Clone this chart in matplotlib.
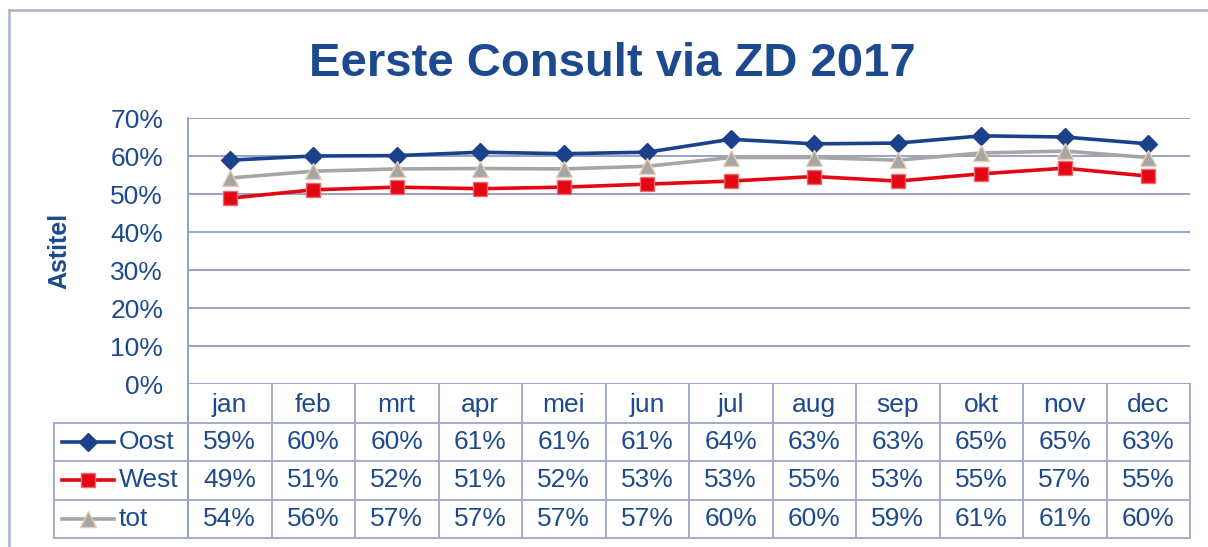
import matplotlib
matplotlib.use("Agg")
import matplotlib.pyplot as plt
from matplotlib.lines import Line2D

# ---------------- data ----------------
months = ["jan", "feb", "mrt", "apr", "mei", "jun", "jul", "aug", "sep", "okt", "nov", "dec"]
oost = [58.9, 60.0, 60.1, 61.0, 60.6, 61.0, 64.4, 63.2, 63.4, 65.3, 65.0, 63.2]
west = [48.9, 51.1, 51.8, 51.4, 51.8, 52.6, 53.4, 54.6, 53.4, 55.3, 56.8, 54.7]
tot = [54.2, 56.0, 56.6, 56.7, 56.6, 57.3, 59.6, 59.6, 58.9, 60.8, 61.3, 59.6]
series_names = ["Oost", "West", "tot"]
yticks = [0, 10, 20, 30, 40, 50, 60, 70]
title = "Eerste Consult via ZD 2017"
ylabel = "Astitel"

# ---------------- style ----------------
plt.rcParams['font.family'] = ['Liberation Sans', 'DejaVu Sans']
BLUE_TXT = "#1D4A8E"
GRID = "#8E9BC6"
TBL = "#A3ACCB"
FRAME = "#ABB2CC"
styles = {
    "Oost": dict(color="#1B418A", marker="D", ms=9, mfc="#1B418A", mec="#1B418A", lw=2.6),
    "West": dict(color="#E30613", marker="s", ms=10, mfc="#E30613", mec="#EE6A6A", lw=2.6),
    "tot": dict(color="#A6A6A6", marker="^", ms=11, mfc="#A6A6A6", mec="#E9CDB5", lw=2.6),
}
data = {"Oost": oost, "West": west, "tot": tot}

W, H = 1208, 547
fig = plt.figure(figsize=(W / 100, H / 100), dpi=100)


def box(l, t, r, b):
    return [l / W, 1 - b / H, (r - l) / W, (b - t) / H]


# outer frame (extends beyond the image on right/bottom)
fig.add_artist(Line2D([9 / W, 1], [1 - 10 / H, 1 - 10 / H], transform=fig.transFigure, color=FRAME, lw=1.8))
fig.add_artist(Line2D([9 / W, 9 / W], [1 - 10 / H, 0], transform=fig.transFigure, color=FRAME, lw=1.8))

# ---------------- plot area ----------------
ax = fig.add_axes(box(188, 118, 1190, 384))
x = list(range(len(months)))
for name in series_names:
    st = styles[name]
    ax.plot(x, data[name], color=st["color"], lw=st["lw"], marker=st["marker"],
            ms=st["ms"], mfc=st["mfc"], mec=st["mec"], mew=1.0, zorder=3)
ax.set_xlim(-0.5, len(months) - 0.5)
ax.set_ylim(0, 70)
ax.set_yticks(yticks)
ax.set_yticklabels([f"{v}%" for v in yticks])
ax.set_xticks([])
ax.yaxis.grid(True, color=GRID, lw=1.3)
ax.set_axisbelow(True)
for s in ["top", "right", "bottom"]:
    ax.spines[s].set_visible(False)
ax.spines["left"].set_color(GRID)
ax.spines["left"].set_linewidth(1.3)
ax.tick_params(axis="y", length=0, pad=18, labelsize=19, labelcolor=BLUE_TXT)

fig.text(612 / W, 1 - 76 / H, title, ha="center", va="baseline", fontsize=34,
         fontweight="bold", color=BLUE_TXT)
fig.text(59 / W, 1 - 251 / H, ylabel, rotation=90, ha="center", va="center",
         fontsize=18, fontweight="bold", color=BLUE_TXT)

# ---------------- data table ----------------
colw = (1190 - 188) / len(months)
xl = -0.5 - (188 - 54) / colw
at = fig.add_axes(box(54, 384, 1190, 538))
at.set_xlim(xl, len(months) - 0.5)
at.set_ylim(4, 0)
at.axis("off")
lw_t = 1.4
for k in range(len(months) + 1):
    at.plot([k - 0.5, k - 0.5], [0, 4], color=TBL if k else GRID, lw=lw_t, clip_on=False)
at.plot([xl, xl], [1, 4], color=TBL, lw=lw_t, clip_on=False)
for r in range(1, 5):
    at.plot([xl, len(months) - 0.5], [r, r], color=TBL, lw=lw_t, clip_on=False)

for i, m in enumerate(months):
    at.text(i, 0.55, m, ha="center", va="center", fontsize=19, color=BLUE_TXT)
for r, name in enumerate(series_names):
    yrow = r + 1.5
    for i, v in enumerate(data[name]):
        at.text(i, yrow, f"{round(v)}%", ha="center", va="center", fontsize=19, color=BLUE_TXT)
    st = styles[name]
    x0 = xl + (62 - 54) / colw
    x1 = xl + (114 - 54) / colw
    at.plot([x0, x1], [yrow, yrow], color=st["color"], lw=st["lw"], clip_on=False)
    at.plot([(x0 + x1) / 2], [yrow], marker=st["marker"], ms=st["ms"], mfc=st["mfc"],
            mec=st["mec"], mew=1.0, ls="none", clip_on=False)
    at.text(xl + (119 - 54) / colw, yrow, name, ha="left", va="center", fontsize=19, color=BLUE_TXT)

fig.savefig("out.png", dpi=100)
